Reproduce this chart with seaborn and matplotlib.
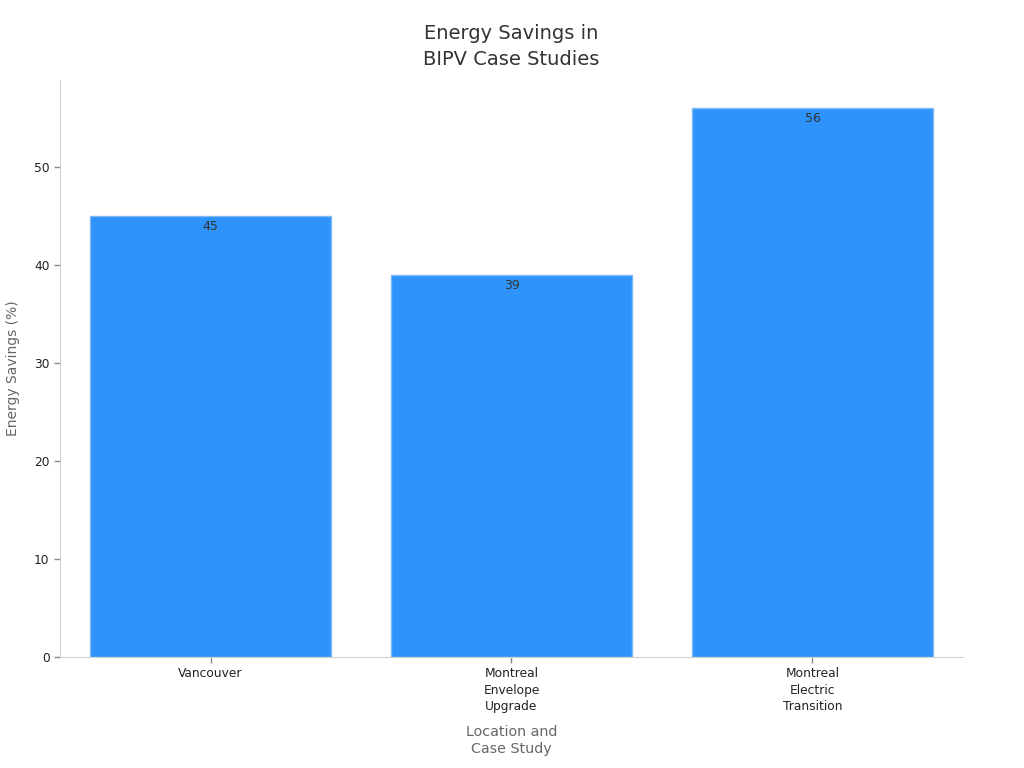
import seaborn as sns
import pandas as pd
import matplotlib.pyplot as plt

# data
cases = ["Vancouver", "Montreal\nEnvelope\nUpgrade", "Montreal\nElectric\nTransition"]
savings = [45, 39, 56]

df = pd.DataFrame({"case": cases, "savings": savings})

sns.set_style("white")
plt.rcParams['font.family'] = ['DejaVu Sans']

fig = plt.figure(figsize=(10.24, 7.68), dpi=100)
ax = fig.add_axes([0.0586, 0.1445, 0.8818, 0.7513])

sns.barplot(data=df, x="case", y="savings", color="#2E93FA", saturation=1,
            width=0.8, edgecolor="#7fbaf7", linewidth=1, ax=ax)

ax.set_xlim(-0.5, 2.5)
ax.set_ylim(0, 58.9)
ax.set_yticks([0, 10, 20, 30, 40, 50])

# value labels just inside the bar tops
for i, v in enumerate(savings):
    ax.text(i, v - 0.4, str(v), ha="center", va="top", fontsize=9, color="#333333")

ax.set_title("Energy Savings in\nBIPV Case Studies", fontsize=14, color="#333333",
             pad=11, linespacing=1.45)
ax.set_xlabel("Location and\nCase Study", fontsize=10.3, color="#666666", labelpad=8,
              linespacing=1.35)
ax.set_ylabel("Energy Savings (%)", fontsize=10, color="#666666", labelpad=10)

for s in ["top", "right"]:
    ax.spines[s].set_visible(False)
for s in ["left", "bottom"]:
    ax.spines[s].set_color("#d0d0d0")
ax.tick_params(axis="both", bottom=True, left=True, labelsize=8.8, colors="#222222",
               length=4, width=1, color="#888888")
for lab in ax.get_xticklabels():
    lab.set_linespacing(1.35)

fig.savefig("out.png", dpi=100)
